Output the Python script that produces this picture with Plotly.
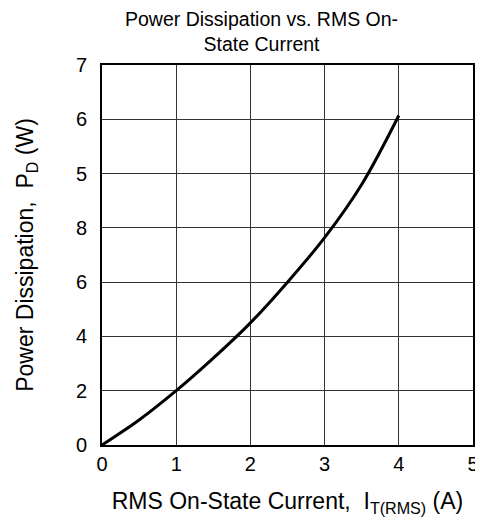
import plotly.graph_objects as go

# Data
current_a = [0, 0.5, 1.0, 1.5, 2.0, 2.5, 3.0, 3.5, 4.0]
power_w = [0, 0.46, 1.0, 1.6, 2.25, 3.0, 3.82, 4.8, 6.07]

x_ticks = [0, 1, 2, 3, 4, 5]
y_tickvals = [0, 1, 2, 3, 4, 5, 6, 7]
y_ticktext = ["0", "2", "4", "6", "8", "5", "6", "7"]

title_text = "Power Dissipation vs. RMS On-<br>State Current"
x_title = "RMS On-State Current,  I<sub>T(RMS)</sub> (A)"
y_title = "Power Dissipation,  P<sub>D</sub> (W)"

FONT = "Liberation Sans, Arial, sans-serif"

fig = go.Figure()
fig.add_trace(go.Scatter(
    x=current_a, y=power_w, mode="lines",
    line=dict(color="black", width=3, shape="spline", smoothing=1.0),
    showlegend=False, hoverinfo="skip",
))

axis_common = dict(
    showgrid=True, gridcolor="#333333", gridwidth=1,
    showline=True, linecolor="black", linewidth=2, mirror=True,
    zeroline=False, ticks="", tickfont=dict(family=FONT, size=20, color="black"),
    fixedrange=True, automargin=False,
)

# The page body has an 8px margin, so the figure is sized to fit the window.
fig.update_layout(
    width=475, height=512,
    margin=dict(l=94, r=10, t=57, b=75),
    paper_bgcolor="white", plot_bgcolor="white",
    font=dict(family=FONT, color="black"),
    xaxis=dict(range=[0, 5], tickvals=x_ticks, ticklabelstandoff=0,
               title=dict(text=x_title, font=dict(family=FONT, size=23), standoff=19),
               **axis_common),
    yaxis=dict(range=[0, 7], tickvals=y_tickvals, ticktext=y_ticktext, ticklabelstandoff=9,
               title=dict(text=y_title, font=dict(family=FONT, size=23), standoff=36),
               **axis_common),
    annotations=[dict(
        text=title_text, xref="paper", yref="paper", x=0.431, y=1.0, xanchor="center",
        yanchor="bottom", showarrow=False, align="center", yshift=8,
        font=dict(family=FONT, size=19.5, color="black"),
    )],
)

fig.write_html("out.html")
